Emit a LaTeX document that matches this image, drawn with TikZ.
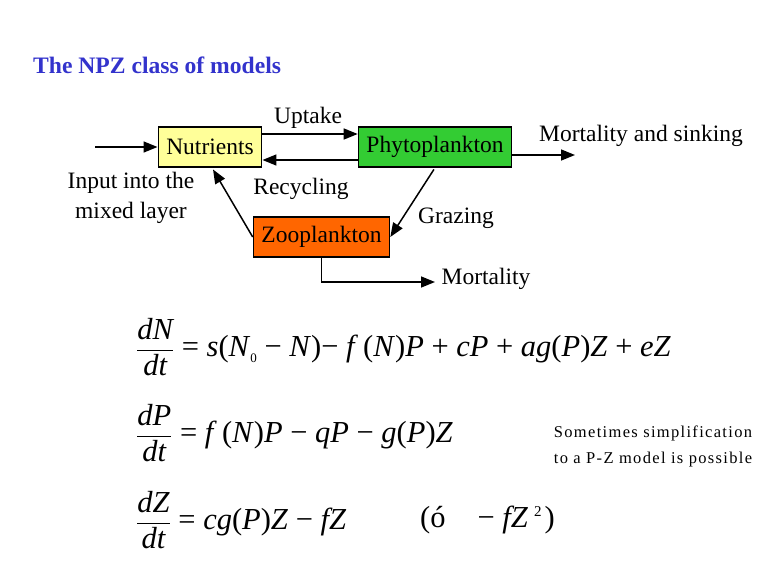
\documentclass[tikz,border=0pt]{standalone}
\usepackage{fontspec}
\setmainfont{Liberation Serif}
\usepackage{amsmath}
\usetikzlibrary{arrows.meta}
\definecolor{nutyellow}{HTML}{FFFF99}
\definecolor{phygreen}{HTML}{33CC33}
\definecolor{zooorange}{HTML}{FF6600}
\definecolor{titleblue}{HTML}{3333CC}
\begin{document}
\begin{tikzpicture}[x=1pt,y=-1pt,
    box/.style={draw,line width=1.5pt,minimum height=40pt,inner xsep=8pt,inner ysep=0pt,font=\fontsize{23.5}{28}\selectfont},
    lbl/.style={font=\fontsize{23.5}{30}\selectfont,align=center},
    flow/.style={line width=1.5pt,-{Triangle[length=14pt,width=11pt]}},
    eqn/.style={anchor=west,inner sep=0pt,font=\fontsize{30.5}{36}\selectfont}]
      \useasboundingbox (0,0) rectangle (768,576);

      % TITLE
      \node[anchor=west,inner sep=0pt,text=titleblue,font=\fontsize{23.6}{28}\selectfont\bfseries] (title) at (33,65) {The NPZ class of models};

      % BOXES
      \node[box,fill=nutyellow] (nut) at (210,147) {Nutrients};
      \node[box,fill=phygreen]  (phy) at (435,147) {Phytoplankton};
      \node[box,fill=zooorange] (zoo) at (321.5,237) {Zooplankton};

      % loose ends
      \coordinate (input) at (95,147);
      \coordinate (sink)  at (575,155);
      \coordinate (zmort) at (435,282);

      % ARROWS
      \draw[flow] (input) -- (nut.west);
      \draw[flow] ([yshift=13pt]nut.east) -- ([yshift=13pt]phy.west);
      \draw[flow] ([yshift=-13pt]phy.west) -- ([yshift=-13pt]nut.east);
      \draw[flow,shorten >=2pt] (zoo.west) -- ([xshift=2pt]nut.south);
      \draw[flow,shorten <=2pt] (phy.south) -- (zoo.east);
      \draw[flow] ([yshift=-8pt]phy.east) -- (sink);
      \draw[flow] (zoo.south) |- (zmort);

      % LABELS
      \node[lbl] (uptake) at (308,118) {Uptake};
      \node[lbl] (recyc)  at (301,189) {Recycling};
      \node[lbl] (graz)   at (456,218) {Grazing};
      \node[lbl] (mort)   at (486,279) {Mortality};
      \node[lbl] (msink)  at (641,136) {Mortality and sinking};
      \node[lbl] (inlbl)  at (131,198) {Input into the\\mixed layer};

      % EQUATIONS
      \node[eqn] (eqN) at (136,347) {$\dfrac{\textit{dN}}{\textit{dt}}$ = \textit{s}(\textit{N}{\fontsize{13}{13}\selectfont\raisebox{-6pt}{0}} − \textit{N})− \textit{f}\,(\textit{N})\textit{P} + \textit{cP} + \textit{ag}(\textit{P})\textit{Z} + \textit{eZ}};
      \node[eqn] (eqP) at (136,433) {$\dfrac{\textit{dP}}{\textit{dt}}$ = \textit{f}\,(\textit{N})\textit{P} − \textit{qP} − \textit{g}(\textit{P})\textit{Z}};
      \node[eqn] (eqZ) at (136,520) {$\dfrac{\textit{dZ}}{\textit{dt}}$ = \textit{cg}(\textit{P})\textit{Z} − \textit{fZ}};
      \node[eqn] (alt) at (420,520) {(ó\hspace{32pt}− \textit{fZ}\hspace{6pt}{\fontsize{15}{15}\selectfont\raisebox{11pt}{2}}\hspace{3pt})};

      % NOTE
      \node[font=\fontsize{16.5}{26}\selectfont\addfontfeature{LetterSpace=8},align=center] (note) at (653,446) {Sometimes simplification\\to a P-Z model is possible};
\end{tikzpicture}
\end{document}
